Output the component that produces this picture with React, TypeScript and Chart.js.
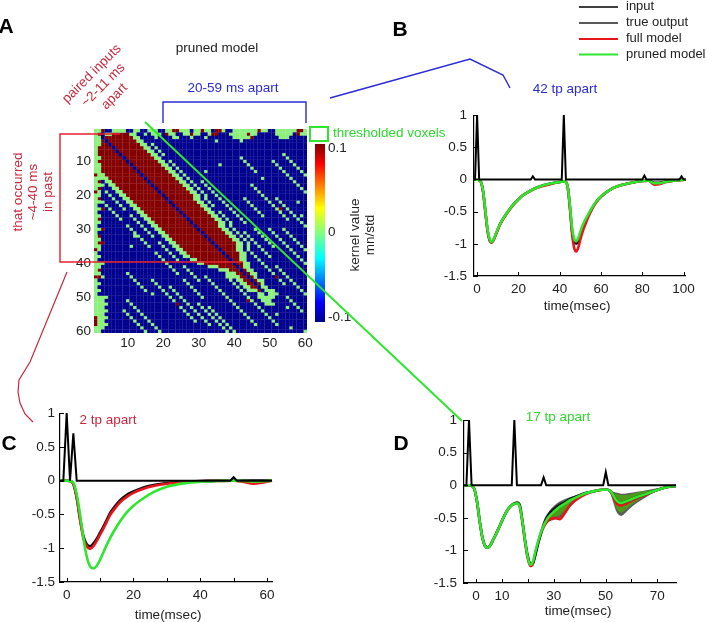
import React, { useEffect, useRef } from 'react';
import { Chart, registerables } from 'chart.js';

Chart.register(...registerables);

const FONT = '"Liberation Sans", Arial, Helvetica, sans-serif';
const INK = '#222222';
const BLUE_TXT = '#2b2bd8';
const RED_TXT = '#c8283c';
const GREEN_TXT = '#2ed82e';
const FS = 13.5;

// ---------- A: pruned second-order kernel, 60 x 60 ----------
// one entry per row; runs of cells: g = kernel about 0, r = +0.1, b = -0.1.
// cells that are not listed hold -0.1
const kernelRows: string[] = [
  'g1-2 r3 g6-9 g12-13 g16-18 g21-22 r23-24 g25-27 g29-30 r31 g32-33 r35-36 g37 g40-46 r47 g48-49 g52-57 r58-59 g60',
  'g1 r2 g4-5 r6-10 g11-12 g15 g17-19 r21 g22-23 g26-27 r28 g29-30 g33 r34-35 g39-43 r44 g45-46 g52-56 r58 g59-60',
  'g1-2 r4-11 g12-13 g18 g23-24 g28 g32 g40-44 r45 g53-55',
  'g1-2 r3-12 b4 g13-14 g35 g42',
  'g1-2 r3-13 b5 g14-15 g17',
  'g1 r2-14 b6 g15-16 g18',
  'g1 r2-15 b7 g16-17 g19',
  'g1 r2-16 b8 g17-18 g20 g54',
  'g1-2 r3-17 b9 g18-19 g42 g55',
  'g1 r2-18 b10 g19-20 g22 g43 g51 g56',
  'g1-2 r3-19 b11 g20-21 g23 g36 g44 g52 g57',
  'g1-2 r3-20 b12 g21-22 g24 g45 g53 g58',
  'g1-2 r3-21 b13 g22-23 g25 g32 g46 g54 g59',
  'r1 g2-3 r4-22 b14 g23-24 g26 g55 g60',
  'g1-4 r5-23 b15 g24-25 g27 g48 g56',
  'g1 r2 g4-5 r6-24 b16 g25-26 g28 g31 g57',
  'g1-3 g5-6 r7-25 b17 g26-27 g29 g32 g45 g58',
  'g1 r2 g6-7 r8-26 b18 g27-28 g30 g33 g46 g59',
  'r1 g2 g4 g7-8 r9-27 b19 g28-29 g31 g34 g47 g60',
  'g1-2 g5 g8-9 r10-28 b20 g29-30 g32 g35 g48',
  'g1 r2 g6 g9-10 r11-28 b21 g29-30 g32 g36 g43 g49 g52',
  'g1-3 g7 g10-11 r12-29 b22 g30-31 g33 g37 g44 g50 g53 g58',
  'g1 g4 g8 g11-12 r13-30 b23 g31-32 g34 g38 g45 g51 g54',
  'g1-2 r3 g5 g9 g12-13 r14-31 b24 g32-33 g39 g46 g52 r53 g55',
  'g1 g6 g13-14 r15-32 b25 g33-34 g36 g40 g47 g53 g56',
  'g1-2 g7 g11 g14-15 r16-33 b26 g34-35 g37 g41 g48 g54 g57 g59',
  'g1 r2 g8 g12 g15-16 r17-34 b27 g35-36 g38 g42 g55 g58',
  'g1-2 g13 g16-17 r18-35 b28 g36-37 g39 g43 g59',
  'g1 g10 g14 g17-18 r19-35 b29 g36-37 g39 g60',
  'g1-2 r3 g11 g15 g18-19 r20-36 b30 g37-38 g40 g46 g50 g54',
  'g1 g12 g16 g19-20 r21-37 b31 g38-39 g41 g43 g47 g51 g55',
  'g1 r2 g12-13 g17 g20-21 r22-38 b32 g39-40 g42 g44 g48 g52 g56',
  'g1-2 g14 g21-22 r23-39 b33 g40-41 g43 g45 g49 g53 g57',
  'g1 r2-3 g15 g19 g22-23 r24-40 b34 g41-42 g44 g46 g50 g54 g58',
  'g1-2 g11 g16 g20 g23-24 r25-40 b35 g41-42 g44 g47 g51 g55 g59',
  'r1 g2 g21 g24-25 r26-40 b36 g41-42 g44 g48 g56 g60',
  'g1 g18 g22 g25-26 r27-41 b37 g42-43 g45 g49 g57',
  'g1-2 g19 g23 g26-27 r28-41 b38 g42-43 g46 g50 g58',
  'g1 g20 g24 g28-29 r30-41 b39 g42-43 g47 g59',
  'g1-3 g21 g30-31 r32-42 b40 g43-44 g48 g60',
  'g1-2 g22 g26 g33-35 r36-40 r42 g43-44 g49 g52',
  'g1 r2 g23 g27 g36-38 r39-41 r43 g44-45 g50 g53',
  'g1-2 g10 g24 g28 g38-40 r41-42 r44 g45-46 g51 g54',
  'r1-2 g3 g11 g29 g32 g38-41 r42-43 r45 g46 r52 g55',
  'g1 g12 g17 g26 g30 g33 g39 g41-42 r43-44 r46 g47-48 g53 g56',
  'g1-2 g13 g18 g27 g34 g40 g42-43 r44-45 r47 g48 g54 g57',
  'g1 g14 g19 g22 g28 g35 g41 g43-44 r45-46 g48-49 g58',
  'g1-2 g15 g20 g23 g29 g36 g42 g44-46 r47 g49-51 g59',
  'g1 g17 g21 g24 g30 g37 g43 g47-48 g50-52 g60',
  'g1-4 g22 g25 g31 g38 g44 g47-51 g55',
  'g1-3 g10 g23 g26 g39 r44 g45 g48-50 g56',
  'g1-4 g11 r24 g27 g30 g40 g46 g49-51 g57',
  'g1-3 g12 g25 g28 g31 g33 g41 g47 g55 g58',
  'g1-4 g9 g13 g26 g29 g32 g34 g42 g48 g59',
  'g1-3 g10 g14 g27 g30 g33 g35 g43 g49 g52',
  'r1 g2-4 g11 g15 g28 g31 g34 g36 g44 g50',
  'r1 g2-3 g12 g16 g29 g32 g35 g37 g45 g51',
  'r1 g2-4 g13 g17 g33 g36 g38 g46 g52',
  'g1-3 g14 g18 g37 g39 g56',
  'g1-2 g15 g19 g38 g40 g60',
];
const kernelTicks = [10, 20, 30, 40, 50, 60];
const cellColour: Record<string, string> = { b: '#00008f', g: '#8cf07c', r: '#840000' };

// colour bar (kernel value, mn/std)
const barRange = [-0.106, 0.105];
const barTicks = [-0.1, 0, 0.1];
const jetStops: [number, string][] = [
  [0, '#00008f'], [0.11, '#0000ff'], [0.36, '#00ffff'], [0.5, '#80ff80'],
  [0.64, '#ffff00'], [0.89, '#ff0000'], [1, '#800000'],
];

// ---------- traces ----------
const yTicks = [-1.5, -1, -0.5, 0, 0.5, 1];

// B: 42 tp apart
const tInB = [-1.5, -1, 0, 1, 26, 27, 28, 41, 42, 43, 80, 81, 82, 98, 99, 100, 101];
const inputB = [0, 0, 1, 0, 0, 0.05, 0, 0, 1, 0, 0, 0.06, 0, 0, 0.05, 0, 0];
const tB = [-1.5, 0, 1, 2, 3, 4, 5, 6, 7, 8, 9, 10, 11, 12, 14, 16, 18, 20, 22, 25, 28, 31, 34, 37, 40, 42, 43, 44, 45, 46, 47, 48, 49, 50, 51, 52, 54, 56, 58, 60, 63, 66, 70, 75, 80, 83, 86, 88, 91, 95, 101];
const trueB = [0, 0, -0.01, -0.05, -0.21, -0.5, -0.78, -0.94, -0.98, -0.94, -0.86, -0.78, -0.7, -0.64, -0.54, -0.45, -0.37, -0.31, -0.25, -0.19, -0.14, -0.1, -0.075, -0.055, -0.04, -0.03, -0.04, -0.14, -0.44, -0.8, -0.97, -1.0, -0.96, -0.86, -0.76, -0.68, -0.55, -0.43, -0.335, -0.265, -0.19, -0.13, -0.085, -0.05, -0.025, -0.02, -0.05, -0.05, -0.035, -0.02, 0];
const fullB = [0, 0, -0.01, -0.05, -0.21, -0.5, -0.78, -0.94, -0.98, -0.94, -0.86, -0.78, -0.71, -0.65, -0.55, -0.46, -0.38, -0.31, -0.25, -0.19, -0.14, -0.11, -0.085, -0.06, -0.04, -0.03, -0.04, -0.15, -0.47, -0.85, -1.06, -1.12, -1.06, -0.93, -0.82, -0.73, -0.57, -0.44, -0.34, -0.27, -0.19, -0.13, -0.085, -0.05, -0.025, -0.02, -0.08, -0.075, -0.045, -0.02, 0];
const prunedB = [0, 0, -0.01, -0.05, -0.2, -0.48, -0.76, -0.92, -0.97, -0.93, -0.85, -0.77, -0.7, -0.64, -0.54, -0.45, -0.37, -0.31, -0.25, -0.19, -0.14, -0.1, -0.075, -0.055, -0.04, -0.03, -0.04, -0.14, -0.42, -0.75, -0.92, -0.96, -0.91, -0.81, -0.72, -0.65, -0.53, -0.42, -0.33, -0.26, -0.19, -0.13, -0.085, -0.05, -0.025, -0.02, -0.06, -0.06, -0.04, -0.02, 0];

// C: 2 tp apart
const tInC = [-2, -1, 0, 1, 2, 3, 49, 50, 51, 61.5];
const inputC = [0, 0, 1, 0, 0.7, 0, 0, 0.05, 0, 0];
const tC = [-2, 0, 1, 2, 3, 4, 5, 6, 7, 8, 9, 10, 11, 12, 13, 14, 16, 18, 20, 23, 26, 30, 35, 40, 45, 50, 53, 56, 58, 61.5];
const trueC = [0, 0, -0.005, -0.05, -0.25, -0.56, -0.82, -0.94, -0.97, -0.93, -0.86, -0.77, -0.68, -0.58, -0.48, -0.41, -0.29, -0.21, -0.16, -0.1, -0.065, -0.035, -0.015, -0.005, 0, 0, 0, 0, 0, 0];
const fullC = [0, 0, -0.005, -0.05, -0.25, -0.58, -0.85, -0.97, -1.01, -0.97, -0.89, -0.8, -0.71, -0.61, -0.51, -0.44, -0.32, -0.24, -0.18, -0.12, -0.08, -0.045, -0.02, -0.01, -0.005, 0, -0.02, -0.045, -0.035, 0];
const prunedC = [0, 0, -0.005, -0.03, -0.2, -0.5, -0.85, -1.12, -1.27, -1.3, -1.26, -1.17, -1.06, -0.95, -0.85, -0.76, -0.6, -0.47, -0.37, -0.26, -0.17, -0.09, -0.04, -0.015, -0.005, 0, -0.005, -0.01, -0.01, 0];

// D: 17 tp apart (time axis as labelled on the panel)
const tInD = [-4.6, -3.7, -2.7, -1.7, 13.8, 14.8, 15.8, 25.1, 26.1, 27.1, 49.1, 50.1, 51.1, 77.2];
const inputD = [0, 0, 1, 0, 0, 1, 0, 0, 0.12, 0, 0, 0.2, 0, 0];
const tD = [-4.6, -2.7, -1.67, -0.64, 0.39, 1.42, 2.45, 3.48, 4.51, 5.54, 6.57, 7.6, 8.63, 9.66, 10.68, 11.71, 12.74, 13.77, 14.8, 15.83, 16.86, 17.89, 18.92, 19.95, 20.98, 22.01, 23.04, 24.07, 25.1, 26.13, 27.16, 28.19, 30.25, 32.31, 34.37, 36.42, 39.51, 42.6, 45.69, 48.78, 50.84, 51.87, 52.9, 53.93, 54.96, 55.99, 57.02, 59.08, 62.16, 65.25, 69.37, 73.49, 77.2];
const trueD = [0, 0, -0.01, -0.06, -0.25, -0.55, -0.8, -0.93, -0.96, -0.92, -0.84, -0.76, -0.67, -0.58, -0.49, -0.41, -0.35, -0.305, -0.28, -0.265, -0.3, -0.54, -0.84, -1.08, -1.2, -1.19, -1.05, -0.88, -0.73, -0.6, -0.5, -0.44, -0.36, -0.3, -0.26, -0.21, -0.16, -0.115, -0.09, -0.07, -0.07, -0.09, -0.15, -0.22, -0.26, -0.27, -0.26, -0.23, -0.18, -0.14, -0.08, -0.03, -0.01];
const fullD = [0, 0, -0.01, -0.06, -0.25, -0.55, -0.8, -0.93, -0.96, -0.92, -0.84, -0.76, -0.67, -0.58, -0.49, -0.41, -0.35, -0.305, -0.285, -0.275, -0.32, -0.56, -0.87, -1.12, -1.24, -1.2, -1.02, -0.87, -0.74, -0.64, -0.57, -0.53, -0.5, -0.52, -0.42, -0.3, -0.2, -0.13, -0.09, -0.07, -0.07, -0.09, -0.17, -0.26, -0.3, -0.31, -0.3, -0.26, -0.2, -0.15, -0.08, -0.03, -0.01];
const prunedD = [0, 0, -0.01, -0.06, -0.25, -0.55, -0.8, -0.93, -0.96, -0.92, -0.84, -0.76, -0.67, -0.58, -0.49, -0.41, -0.35, -0.305, -0.285, -0.275, -0.32, -0.55, -0.85, -1.1, -1.22, -1.17, -1.0, -0.85, -0.72, -0.62, -0.54, -0.48, -0.4, -0.33, -0.28, -0.23, -0.17, -0.12, -0.09, -0.07, -0.07, -0.09, -0.15, -0.22, -0.26, -0.27, -0.26, -0.23, -0.18, -0.14, -0.08, -0.03, -0.01];
// spread of the outputs after the third and fourth inputs
const tSpread1 = [25.1, 26.13, 27.16, 28.19, 30.25, 32.31, 34.37, 36.42, 39.51, 42.6, 45.69];
const greyLo1 = [-0.74, -0.66, -0.6, -0.56, -0.53, -0.5, -0.42, -0.33, -0.22, -0.14, -0.1];
const greyHi1 = [-0.7, -0.58, -0.48, -0.4, -0.31, -0.25, -0.21, -0.18, -0.14, -0.1, -0.08];
const greenLo1 = [-0.73, -0.64, -0.58, -0.53, -0.49, -0.46, -0.38, -0.3, -0.2, -0.13, -0.095];
const greenHi1 = [-0.71, -0.6, -0.5, -0.44, -0.34, -0.28, -0.23, -0.19, -0.15, -0.11, -0.085];
const tSpread2 = [50.84, 51.87, 52.9, 53.93, 54.96, 55.99, 57.02, 59.08, 62.16, 65.25, 69.37, 73.49];
const greyLo2 = [-0.08, -0.13, -0.25, -0.38, -0.45, -0.47, -0.45, -0.37, -0.27, -0.19, -0.1, -0.04];
const greyHi2 = [-0.07, -0.08, -0.1, -0.11, -0.12, -0.13, -0.13, -0.12, -0.1, -0.08, -0.05, -0.03];
const greenLo2 = [-0.075, -0.12, -0.22, -0.33, -0.4, -0.42, -0.4, -0.33, -0.24, -0.17, -0.09, -0.035];
const greenHi2 = [-0.07, -0.09, -0.11, -0.13, -0.14, -0.15, -0.15, -0.14, -0.11, -0.09, -0.06, -0.03];

const C_TRUE = '#111111';
const C_FULL = '#e8141c';
const C_PRUNED = '#2ee62e';

// ---------- helpers ----------
function parseRow(s: string): string[] {
  const row: string[] = new Array(60).fill('b');
  s.split(' ').forEach((tok) => {
    if (!tok) return;
    const code = tok[0];
    const [a, b] = tok.slice(1).split('-').map(Number);
    for (let c = a; c <= (b || a); c++) row[c - 1] = code;
  });
  return row;
}

const pts = (xs: number[], ys: number[]) => xs.map((x, i) => ({ x, y: ys[i] }));

function trace(xs: number[], ys: number[], color: string, width: number, order: number, smooth = true) {
  return {
    data: pts(xs, ys), borderColor: color, backgroundColor: color, borderWidth: width,
    pointRadius: 0, order, fill: false, clip: 6,
    cubicInterpolationMode: smooth ? 'monotone' : 'default', tension: 0,
  };
}

function spread(xs: number[], ys: number[], color: string, order: number, target: number | null) {
  return {
    data: pts(xs, ys), borderColor: color, backgroundColor: color, borderWidth: 0,
    pointRadius: 0, order, fill: target === null ? false : { target },
    cubicInterpolationMode: 'monotone',
  };
}

const inwardTicks = {
  id: 'inwardTicks',
  afterDraw(chart: any, _a: any, opts: any) {
    const { ctx, chartArea, scales } = chart;
    ctx.save();
    ctx.strokeStyle = '#000';
    ctx.lineWidth = 1;
    (opts.x || []).forEach((v: number) => {
      const px = Math.round(scales.x.getPixelForValue(v)) + 0.5;
      ctx.beginPath(); ctx.moveTo(px, chartArea.bottom); ctx.lineTo(px, chartArea.bottom - 4); ctx.stroke();
    });
    (opts.y || []).forEach((v: number) => {
      const py = Math.round(scales.y.getPixelForValue(v)) + 0.5;
      ctx.beginPath(); ctx.moveTo(chartArea.left, py); ctx.lineTo(chartArea.left + 4, py); ctx.stroke();
    });
    ctx.restore();
  },
};

const tickFont = { family: FONT, size: FS };
const fixTicks = (vals: number[]) => (axis: any) => { axis.ticks = vals.map((value) => ({ value })); };
const noGrid = { display: false, drawTicks: false, tickLength: 0 };

type Panel = {
  xMin: number; xMax: number; xLabels: number[]; xMarks: number[];
  yWidth: number; xHeight: number; padTop: number; padRight: number; yPad: number; datasets: any[];
};

function tracePanel(canvas: HTMLCanvasElement, p: Panel) {
  return new Chart(canvas, {
    type: 'line',
    data: { datasets: p.datasets },
    plugins: [inwardTicks],
    options: {
      animation: false, responsive: false, events: [],
      layout: { padding: { top: p.padTop, right: p.padRight, left: 0, bottom: 0 } },
      plugins: {
        legend: { display: false }, tooltip: { enabled: false },
        inwardTicks: { x: p.xMarks, y: yTicks },
      } as any,
      scales: {
        x: {
          type: 'linear', min: p.xMin, max: p.xMax,
          afterBuildTicks: fixTicks(p.xLabels),
          afterFit: (s: any) => { s.height = p.xHeight; },
          grid: noGrid,
          border: { display: true, color: '#000', width: 1.2 },
          ticks: { font: tickFont, color: INK, padding: 5, autoSkip: false, maxRotation: 0, callback: (v: any) => String(v) },
        },
        y: {
          type: 'linear', min: -1.5, max: 1,
          afterBuildTicks: fixTicks(yTicks),
          afterFit: (s: any) => { s.width = p.yWidth; },
          grid: noGrid,
          border: { display: true, color: '#000', width: 1.2 },
          ticks: { font: tickFont, color: INK, padding: p.yPad, autoSkip: false, callback: (v: any) => String(v) },
        },
      },
    } as any,
  });
}

function kernelChart(canvas: HTMLCanvasElement) {
  const cells = kernelRows.map(parseRow);
  const cellsOf = (code: string) => {
    const out: { x: number; y: number }[] = [];
    cells.forEach((row, i) => row.forEach((c, j) => { if (c === code) out.push({ x: j + 1, y: i + 1 }); }));
    return out;
  };
  const side = (ctx: any) => {
    const { x, y } = ctx.chart.scales;
    const w = Math.abs(x.getPixelForValue(2) - x.getPixelForValue(1));
    const h = Math.abs(y.getPixelForValue(2) - y.getPixelForValue(1));
    return Math.max(w, h) * 0.74;
  };
  return new Chart(canvas, {
    type: 'scatter',
    data: {
      datasets: ['b', 'g', 'r'].map((code) => ({
        data: cellsOf(code), pointStyle: 'rect', backgroundColor: cellColour[code],
        borderWidth: 0, pointRadius: side, pointHoverRadius: side,
      })),
    },
    options: {
      animation: false, responsive: false, events: [],
      layout: { padding: { top: 9, right: 8, left: 0, bottom: 0 } },
      plugins: { legend: { display: false }, tooltip: { enabled: false } },
      scales: {
        x: {
          type: 'linear', min: 0.5, max: 60.5,
          afterBuildTicks: fixTicks(kernelTicks),
          afterFit: (s: any) => { s.height = 25; },
          grid: noGrid, border: { display: false },
          ticks: { font: tickFont, color: INK, padding: 2, autoSkip: false, maxRotation: 0, callback: (v: any) => String(v) },
        },
        y: {
          type: 'linear', min: 0.5, max: 60.5, reverse: true,
          afterBuildTicks: fixTicks(kernelTicks),
          afterFit: (s: any) => { s.width = 44; },
          grid: noGrid, border: { display: false },
          ticks: { font: tickFont, color: INK, padding: 3, autoSkip: false, callback: (v: any) => String(v) },
        },
      },
    } as any,
  });
}

function colourBar(canvas: HTMLCanvasElement) {
  return new Chart(canvas, {
    type: 'bar',
    data: {
      labels: ['kernel'],
      datasets: [{
        data: [barRange] as any,
        borderWidth: 0, barPercentage: 1, categoryPercentage: 1,
        backgroundColor: (ctx: any) => {
          const area = ctx.chart.chartArea;
          if (!area) return '#80ff80';
          const g = ctx.chart.ctx.createLinearGradient(0, area.bottom, 0, area.top);
          jetStops.forEach(([o, c]) => g.addColorStop(o, c));
          return g;
        },
      }],
    },
    options: {
      animation: false, responsive: false, events: [],
      layout: { padding: { top: 10, right: 0, left: 0, bottom: 11 } },
      plugins: { legend: { display: false }, tooltip: { enabled: false } },
      scales: {
        x: { display: false },
        y: {
          position: 'right', min: barRange[0], max: barRange[1],
          afterBuildTicks: fixTicks(barTicks),
          afterFit: (s: any) => { s.width = 35; },
          grid: noGrid, border: { display: false },
          ticks: { font: tickFont, color: INK, padding: 3, autoSkip: false, callback: (v: any) => String(v) },
        },
      },
    } as any,
  });
}

// ---------- layout ----------
const panelB: Panel = {
  xMin: -1.5, xMax: 101, xLabels: [0, 20, 40, 60, 80, 100], xMarks: [0, 20, 40, 60, 80, 100],
  yWidth: 54, xHeight: 39, padTop: 9, padRight: 14, yPad: 7,
  datasets: [
    trace(tInB, inputB, '#000', 2, 0, false),
    trace(tB, prunedB, C_PRUNED, 2.6, 1),
    trace(tB, fullB, C_FULL, 2.6, 2),
    trace(tB, trueB, C_TRUE, 2.6, 3),
  ],
};
const panelC: Panel = {
  xMin: -2, xMax: 61.5, xLabels: [0, 20, 40, 60], xMarks: [0, 10, 20, 30, 40, 50, 60],
  yWidth: 50, xHeight: 28, padTop: 13, padRight: 13, yPad: 5,
  datasets: [
    trace(tInC, inputC, '#000', 2, 0, false),
    trace(tC, prunedC, C_PRUNED, 2.6, 1),
    trace(tC, fullC, C_FULL, 2.6, 2),
    trace(tC, trueC, C_TRUE, 2.6, 3),
  ],
};
const panelD: Panel = {
  xMin: -4.63, xMax: 77.2, xLabels: [0, 10, 30, 50, 70], xMarks: [0, 10, 20, 30, 40, 50, 60, 70],
  yWidth: 54, xHeight: 32, padTop: 11, padRight: 14, yPad: 7,
  datasets: [
    trace(tInD, inputD, '#000', 2, 0, false),
    trace(tD, prunedD, C_PRUNED, 2.6, 1),
    trace(tD, fullD, C_FULL, 2.6, 3),
    trace(tD, trueD, C_TRUE, 2.6, 2),
    spread(tSpread1, greyLo1, '#5c5c5c', 8, null),
    spread(tSpread1, greyHi1, '#5c5c5c', 8, 4),
    spread(tSpread1, greenLo1, '#4e9a18', 7, null),
    spread(tSpread1, greenHi1, '#4e9a18', 7, 6),
    spread(tSpread2, greyLo2, '#5c5c5c', 8, null),
    spread(tSpread2, greyHi2, '#5c5c5c', 8, 8),
    spread(tSpread2, greenLo2, '#4e9a18', 7, null),
    spread(tSpread2, greenHi2, '#4e9a18', 7, 10),
  ],
};

const abs = (left: number, top: number, w: number, h: number): React.CSSProperties => ({
  position: 'absolute', left, top, width: w, height: h,
});

function Label(props: { x: number; y: number; text: string | string[]; color?: string; size?: number; bold?: boolean; rotate?: number; lh?: number; anchor?: 'center' | 'left' }) {
  const { x, y, text, color = INK, size = FS, bold = false, rotate = 0, lh = 16, anchor = 'center' } = props;
  const lines = Array.isArray(text) ? text : [text];
  const tx = anchor === 'center' ? '-50%' : '0';
  return (
    <div
      style={{
        position: 'absolute', left: x, top: y, transform: `translate(${tx}, -50%) rotate(${rotate}deg)`,
        transformOrigin: anchor === 'center' ? '50% 50%' : '0 50%',
        fontFamily: FONT, fontSize: size, fontWeight: bold ? 700 : 400, color, lineHeight: `${lh}px`,
        whiteSpace: 'nowrap', textAlign: 'center',
      }}
    >
      {lines.map((l, i) => <div key={i}>{l}</div>)}
    </div>
  );
}

export default function App() {
  const kRef = useRef<HTMLCanvasElement>(null);
  const cbRef = useRef<HTMLCanvasElement>(null);
  const bRef = useRef<HTMLCanvasElement>(null);
  const cRef = useRef<HTMLCanvasElement>(null);
  const dRef = useRef<HTMLCanvasElement>(null);

  useEffect(() => {
    const charts = [
      kernelChart(kRef.current!),
      colourBar(cbRef.current!),
      tracePanel(bRef.current!, panelB),
      tracePanel(cRef.current!, panelC),
      tracePanel(dRef.current!, panelD),
    ];
    return () => charts.forEach((c) => c.destroy());
  }, []);

  return (
    <div style={{ position: 'fixed', left: 0, top: 0, width: 708, height: 622, background: '#fff', overflow: 'hidden' }}>
      <canvas ref={kRef} width={265} height={240} style={abs(50, 118, 265, 240)} />
      <canvas ref={cbRef} width={45} height={200} style={abs(315, 133, 45, 200)} />
      <canvas ref={bRef} width={280} height={215} style={abs(420, 100, 280, 215)} />
      <canvas ref={cRef} width={275} height={210} style={abs(10, 400, 275, 210)} />
      <canvas ref={dRef} width={280} height={210} style={abs(410, 405, 280, 210)} />

      <svg width={708} height={622} style={{ position: 'absolute', left: 0, top: 0 }}>
        <polyline points="163,123 163,102 306,102 306,123" fill="none" stroke="#2b2bd8" strokeWidth={1.4} />
        <polyline points="330,98 470,59 503,75 510,88" fill="none" stroke="#2b2bd8" strokeWidth={1.4} />
        <rect x={310} y={127} width={18} height={14} fill="none" stroke="#2ee62e" strokeWidth={2} />
        <line x1={145} y1={122} x2={462} y2={421} stroke="#2ee62e" strokeWidth={2} />
        <polyline points="120,134 60,134 60,262 243,262" fill="none" stroke="#e8202c" strokeWidth={1.4} />
        <polyline points="67,272 30,362 19,380 18,392 20,403 25,414 33,422" fill="none" stroke="#c8283c" strokeWidth={1.2} />
        <line x1={579} y1={7} x2={618} y2={7} stroke="#000" strokeWidth={1.5} />
        <line x1={579} y1={23} x2={618} y2={23} stroke="#222" strokeWidth={1.5} />
        <line x1={579} y1={39} x2={618} y2={39} stroke={C_FULL} strokeWidth={2} />
        <line x1={579} y1={54.5} x2={618} y2={54.5} stroke={C_PRUNED} strokeWidth={2} />
      </svg>

      <Label x={6} y={26} text="A" size={21} bold color="#000" />
      <Label x={400} y={29} text="B" size={21} bold color="#000" />
      <Label x={9} y={443} text="C" size={21} bold color="#000" />
      <Label x={401} y={443} text="D" size={21} bold color="#000" />

      <Label x={217} y={48} text="pruned model" />
      <Label x={233} y={88} text="20-59 ms apart" color={BLUE_TXT} />
      <Label x={103} y={85} text={['paired inputs', '~2-11 ms', 'apart']} color={RED_TXT} rotate={-45} />
      <Label x={32} y={192} text={['that occurred', '~4-40 ms', 'in past']} color={RED_TXT} rotate={-90} lh={15} />
      <Label x={333} y={133} text="thresholded voxels" color={GREEN_TXT} anchor="left" />
      <Label x={362} y={235} text={['kernel value', 'mn/std']} rotate={-90} lh={15} />

      <Label x={565} y={89} text="42 tp apart" color={BLUE_TXT} />
      <Label x={108} y={420} text="2 tp apart" color={RED_TXT} />
      <Label x={558} y={417} text="17 tp apart" color={GREEN_TXT} />
      <Label x={577} y={306} text="time(msec)" />
      <Label x={168} y={615} text="time(msec)" />
      <Label x={578} y={611} text="time(msec)" />

      <Label x={626} y={6} text="input" anchor="left" size={13} />
      <Label x={626} y={21.5} text="true output" anchor="left" size={13} />
      <Label x={626} y={37.5} text="full model" anchor="left" size={13} />
      <Label x={626} y={53.5} text="pruned model" anchor="left" size={13} />
    </div>
  );
}
